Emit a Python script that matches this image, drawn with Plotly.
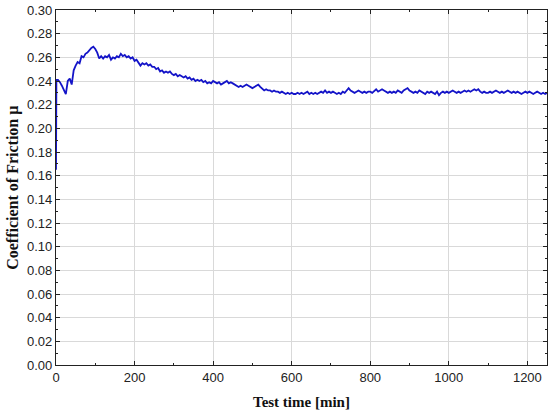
import plotly.graph_objects as go

# Test time [min] and coefficient of friction values
time_start = [0, 1]
mu_start = [0.165, 0.241]

time_main = list(range(5, 1251, 5))
mu_main = [
    0.241, 0.239, 0.236, 0.233, 0.229, 0.240, 0.242, 0.237, 0.249,
    0.253, 0.256, 0.255, 0.261, 0.260, 0.263, 0.264, 0.266, 0.268, 0.269,
    0.267, 0.264, 0.259, 0.261, 0.259, 0.261, 0.260, 0.262, 0.258, 0.260,
    0.259, 0.261, 0.260, 0.263, 0.261, 0.262, 0.260, 0.261, 0.259, 0.260,
    0.257, 0.258, 0.255, 0.253, 0.255, 0.254, 0.255, 0.253, 0.254, 0.252,
    0.252, 0.250, 0.251, 0.248, 0.249, 0.247, 0.248, 0.247, 0.248, 0.246,
    0.245, 0.246, 0.244, 0.245, 0.244, 0.243, 0.244, 0.242, 0.243, 0.241,
    0.242, 0.240, 0.241, 0.240, 0.241, 0.239, 0.240, 0.238, 0.239, 0.238,
    0.240, 0.239, 0.238, 0.239, 0.237, 0.238, 0.239, 0.240, 0.238, 0.239,
    0.238, 0.237, 0.236, 0.235, 0.236, 0.235, 0.236, 0.237, 0.236, 0.235,
    0.234, 0.235, 0.236, 0.237, 0.235, 0.233, 0.232, 0.233, 0.232, 0.232,
    0.231, 0.232, 0.231, 0.231, 0.230, 0.231, 0.230, 0.229, 0.230, 0.229,
    0.230, 0.229, 0.229, 0.230, 0.229, 0.230, 0.229, 0.230, 0.231, 0.229,
    0.230, 0.229, 0.230, 0.229, 0.230, 0.231, 0.230, 0.232, 0.230, 0.231,
    0.230, 0.231, 0.230, 0.229, 0.230, 0.229, 0.231, 0.230, 0.232, 0.234,
    0.232, 0.231, 0.230, 0.231, 0.232, 0.231, 0.230, 0.231, 0.230, 0.231,
    0.231, 0.230, 0.232, 0.233, 0.231, 0.232, 0.233, 0.232, 0.231, 0.230,
    0.231, 0.230, 0.231, 0.230, 0.232, 0.231, 0.230, 0.232, 0.233, 0.234,
    0.232, 0.231, 0.230, 0.231, 0.230, 0.232, 0.231, 0.230, 0.229, 0.231,
    0.230, 0.231, 0.230, 0.229, 0.231, 0.228, 0.230, 0.231, 0.230, 0.231,
    0.230, 0.231, 0.232, 0.231, 0.230, 0.231, 0.230, 0.231, 0.232, 0.231,
    0.232, 0.231, 0.232, 0.233, 0.232, 0.233, 0.231, 0.230, 0.231, 0.230,
    0.230, 0.231, 0.230, 0.231, 0.232, 0.231, 0.230, 0.231, 0.230, 0.231,
    0.232, 0.231, 0.230, 0.231, 0.230, 0.231, 0.230, 0.229, 0.230, 0.231,
    0.230, 0.231, 0.230, 0.229, 0.230, 0.231, 0.230, 0.229, 0.230, 0.229, 0.230,
]

time = time_start + time_main
mu = mu_start + mu_main

x_ticks = [0, 200, 400, 600, 800, 1000, 1200]
y_ticks = [round(i * 0.02, 2) for i in range(16)]
y_tick_labels = [f"{v:.2f}" for v in y_ticks]

x_title = "<b>Test time [min]</b>"
y_title = "<b>Coefficient of Friction μ</b>"

fig = go.Figure(
    go.Scatter(
        x=time, y=mu, mode="lines",
        line=dict(color="#1414c8", width=1.8),
        showlegend=False,
    )
)

axis_common = dict(
    showline=True, linecolor="#222222", linewidth=1.3, mirror="ticks",
    ticks="inside", ticklen=4, tickcolor="#222222", tickwidth=1,
    showgrid=True, gridcolor="#d9d9d9", gridwidth=1, zeroline=False,
    automargin=False,
    tickfont=dict(family="Liberation Sans, Arial, sans-serif", size=13, color="#222222"),
    minor=dict(ticks="inside", ticklen=2, tickcolor="#222222", showgrid=False),
)

fig.update_xaxes(range=[0, 1250], tickvals=x_ticks, **axis_common)
fig.update_xaxes(minor_dtick=100)

fig.update_yaxes(range=[0, 0.30], tickvals=y_ticks, ticktext=y_tick_labels, **axis_common)
fig.update_yaxes(minor_dtick=0.01)

title_font = dict(family="Liberation Serif, serif", size=15, color="#111111")
fig.add_annotation(
    text=x_title, xref="paper", yref="paper", x=0.5, y=-0.103,
    xanchor="center", yanchor="middle", showarrow=False, font=title_font,
)
fig.add_annotation(
    text=y_title, xref="paper", yref="paper", x=-0.089, y=0.5,
    xanchor="center", yanchor="middle", showarrow=False, textangle=-90,
    font=dict(family="Liberation Serif, serif", size=16, color="#111111"),
)

fig.update_layout(
    width=550, height=413,
    margin=dict(l=56, r=3, t=10, b=48),
    paper_bgcolor="white", plot_bgcolor="white",
)

fig.write_html(
    "out.html",
    config={"displayModeBar": False},
    post_script="document.body.style.margin='0';document.body.style.overflow='hidden';",
)
